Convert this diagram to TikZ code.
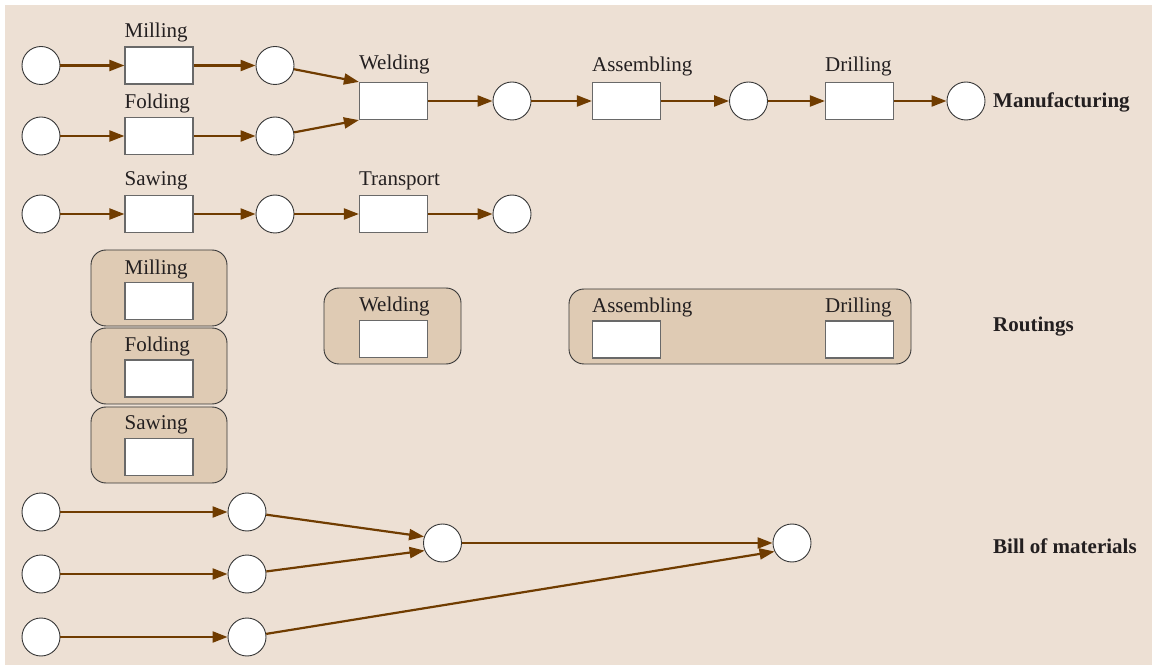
\documentclass[tikz,border=0pt]{standalone}
\usepackage{fontspec}
\setmainfont{Liberation Serif}
\usetikzlibrary{arrows.meta}
\definecolor{bgbeige}{RGB}{237,224,212}
\definecolor{boxtan}{RGB}{223,203,180}
\definecolor{flowbrown}{RGB}{112,60,0}
\definecolor{inkgray}{RGB}{55,55,55}
\definecolor{rectgray}{RGB}{105,105,105}
\definecolor{txt}{RGB}{35,31,32}
\begin{document}
\begin{tikzpicture}[x=1pt,y=-1pt,
  place/.style={circle,draw=inkgray,line width=0.9pt,fill=white,minimum size=38pt,inner sep=0pt},
  trans/.style={rectangle,draw=rectgray,line width=1.2pt,fill=white,minimum width=68pt,minimum height=37pt,inner sep=0pt},
  group/.style={rectangle,rounded corners=15pt,draw=inkgray,line width=0.9pt,fill=boxtan,inner sep=0pt},
  tname/.style={anchor=base west,inner sep=0pt,font=\fontsize{21}{24}\selectfont,text=txt},
  layer/.style={anchor=base west,inner sep=0pt,font=\fontsize{21}{24}\selectfont\bfseries,text=txt},
  flow/.style={draw=flowbrown,line width=2.2pt,-{Triangle[length=15pt,width=11pt]}}]

% canvas
\useasboundingbox (0,0) rectangle (1152,668);
\fill[bgbeige] (5,5) rectangle (1152,665);

% ---------------- Manufacturing ----------------
\node[place] (p1) at (41,65.5) {};
\node[trans] (tmill) at (159,65.5) {};
\node[place] (p2) at (275,65.5) {};
\node[place] (p3) at (41,136) {};
\node[trans] (tfold) at (159,136) {};
\node[place] (p4) at (275,136) {};
\node[trans] (tweld) at (393.5,101) {};
\node[place] (p5) at (512,101) {};
\node[trans] (tasm) at (626.5,101) {};
\node[place] (p6) at (748.5,101) {};
\node[trans] (tdrill) at (859.5,101) {};
\node[place] (p7) at (966,101) {};

\node[place] (p8) at (41,214) {};
\node[trans] (tsaw) at (159,214) {};
\node[place] (p9) at (275,214) {};
\node[trans] (ttrans) at (393.5,214) {};
\node[place] (p10) at (512,214) {};

\node[tname] (lmill) at (tmill.west |- 0,38) {Milling};
\node[tname] (lfold) at (tfold.west |- 0,109) {Folding};
\node[tname] (lweld) at (tweld.west |- 0,70) {Welding};
\node[tname] (lasm) at (tasm.west |- 0,72) {Assembling};
\node[tname] (ldrill) at (tdrill.west |- 0,72) {Drilling};
\node[tname] (lsaw) at (tsaw.west |- 0,186) {Sawing};
\node[tname] (ltrans) at (ttrans.west |- 0,186) {Transport};

\draw[flow] (p1) -- (tmill);
\draw[flow] (tmill) -- (p2);
\draw[flow] (p3) -- (tfold);
\draw[flow] (tfold) -- (p4);
\draw[flow] (p2) -- (tweld.north west);
\draw[flow] (p4) -- (tweld.south west);
\draw[flow] (tweld) -- (p5);
\draw[flow] (p5) -- (tasm);
\draw[flow] (tasm) -- (p6);
\draw[flow] (p6) -- (tdrill);
\draw[flow] (tdrill) -- (p7);
\draw[flow] (p8) -- (tsaw);
\draw[flow] (tsaw) -- (p9);
\draw[flow] (p9) -- (ttrans);
\draw[flow] (ttrans) -- (p10);

\node[layer] (lmanu) at (993,108) {Manufacturing};

% ---------------- Routings ----------------
\node[group,minimum width=136pt,minimum height=76pt] (gmill) at (159,288) {};
\node[group,minimum width=136pt,minimum height=76pt] (gfold) at (159,366) {};
\node[group,minimum width=136pt,minimum height=76pt] (gsaw) at (159,445) {};
\node[group,minimum width=137pt,minimum height=76pt] (gweld) at (392.5,326) {};
\node[group,minimum width=342pt,minimum height=75pt] (gad) at (740,326.5) {};

\node[trans] (rmill) at (159,301) {};
\node[trans] (rfold) at (159,378.5) {};
\node[trans] (rsaw) at (159,457) {};
\node[trans] (rweld) at (393.5,339) {};
\node[trans] (rasm) at (626.5,339.5) {};
\node[trans] (rdrill) at (859.5,339.5) {};

\node[tname] (lrmill) at (rmill.west |- 0,275) {Milling};
\node[tname] (lrfold) at (rfold.west |- 0,352) {Folding};
\node[tname] (lrsaw) at (rsaw.west |- 0,429) {Sawing};
\node[tname] (lrweld) at (rweld.west |- 0,312) {Welding};
\node[tname] (lrasm) at (rasm.west |- 0,313) {Assembling};
\node[tname] (lrdrill) at (rdrill.west |- 0,313) {Drilling};

\node[layer] (lrout) at (993,332) {Routings};

% ---------------- Bill of materials ----------------
\node[place] (b1) at (41,512) {};
\node[place] (b2) at (247,512) {};
\node[place] (b3) at (41,574) {};
\node[place] (b4) at (247,574) {};
\node[place] (b5) at (41,637) {};
\node[place] (b6) at (247,637) {};
\node[place] (bmid) at (442.5,543) {};
\node[place] (bend) at (792,543) {};

\draw[flow] (b1) -- (b2);
\draw[flow] (b3) -- (b4);
\draw[flow] (b5) -- (b6);
\draw[flow] (b2) -- (bmid.161);
\draw[flow] (b4) -- (bmid.203);
\draw[flow] (bmid) -- (bend);
\draw[flow] (b6) -- (bend.206);

\node[layer] (lbom) at (993,553) {Bill of materials};
\end{tikzpicture}
\end{document}
